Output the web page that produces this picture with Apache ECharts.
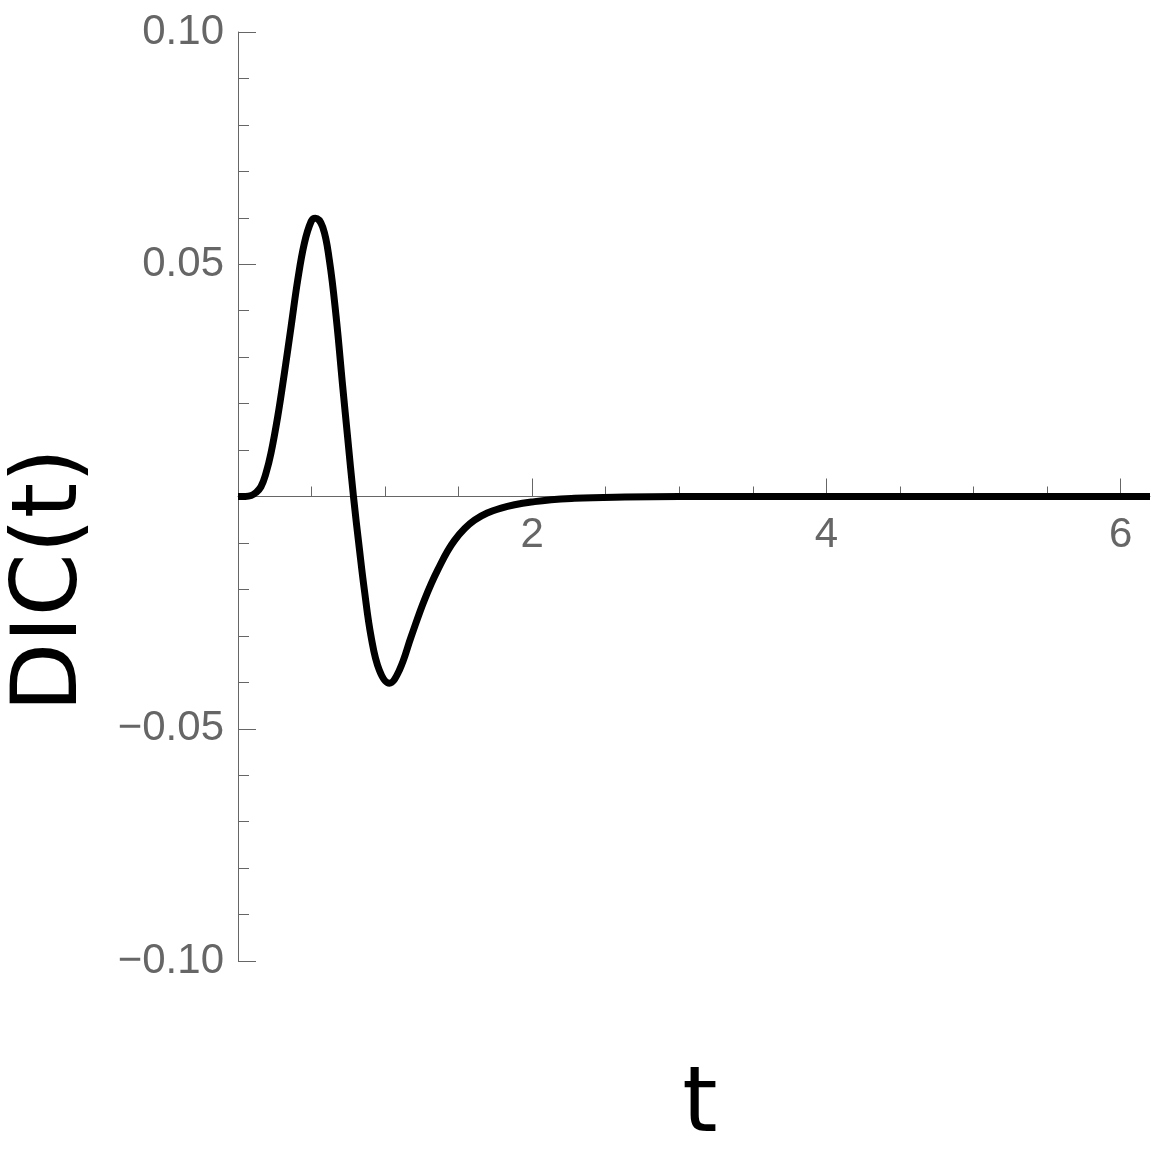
<!DOCTYPE html>
<html>
<head>
<meta charset="utf-8">
<script src="https://cdn.jsdelivr.net/npm/echarts@6/dist/echarts.min.js"></script>
<style>
  html, body { margin: 0; padding: 0; background: #fff; }
  #chart { width: 1161px; height: 1150px; }
</style>
</head>
<body>
<div id="chart"></div>
<script>
// values
var tVals = [0, 0.05, 0.09, 0.12, 0.156, 0.19, 0.224, 0.27, 0.315, 0.361, 0.406, 0.451, 0.497, 0.526, 0.576, 0.621, 0.667, 0.712, 0.746, 0.785,
  0.825, 0.859, 0.905, 0.961, 1.029, 1.097, 1.177, 1.267, 1.358, 1.471, 1.608, 1.789, 2.016, 2.288, 2.63, 3.0, 4, 5, 6.2];
var dicVals = [0, 0, 0.0002, 0.0008, 0.0021, 0.005, 0.0093, 0.0172, 0.0265, 0.0366, 0.0466, 0.0545, 0.0592, 0.0599, 0.058, 0.0509, 0.0387, 0.0236, 0.0125, 0,
  -0.0112, -0.0201, -0.0302, -0.0374, -0.0402, -0.0374, -0.0302, -0.0223, -0.0158, -0.0095, -0.0051, -0.0025, -0.0011, -0.0004, -0.0001, 0, 0, 0, 0];
var xMinorTicks = [0.5, 1, 1.5, 2.5, 3, 3.5, 4.5, 5, 5.5];
var xMajorTicks = [2, 4, 6];

var tickFont = "'Liberation Sans', Arial, sans-serif";
var nameFont = "'DejaVu Sans', sans-serif";
var myChart = echarts.init(document.getElementById('chart'));

var points = tVals.map(function (t, i) { return [t, dicVals[i]]; });

var option = {
  animation: false,
  grid: { left: 238, right: 11, top: 32, bottom: 189, containLabel: false },
  xAxis: [
    {
      type: 'value', min: 0, max: 6.2, interval: 0.5,
      axisLine: { show: true, onZero: true, lineStyle: { color: '#666', width: 1 } },
      axisTick: { show: true, inside: true, length: 10, customValues: xMinorTicks, lineStyle: { color: '#666' } },
      // labels sit under the zero line, not under the grid bottom
      axisLabel: { show: true, customValues: xMajorTicks, margin: -447, fontSize: 42, color: '#666', fontFamily: tickFont },
      splitLine: { show: false }
    },
    {
      // longer ticks at the labelled values
      type: 'value', min: 0, max: 6.2, position: 'bottom',
      axisLine: { show: false, onZero: true, onZeroAxisIndex: 0 },
      axisTick: { show: true, inside: true, length: 18, customValues: xMajorTicks, lineStyle: { color: '#666' } },
      axisLabel: { show: false },
      splitLine: { show: false }
    }
  ],
  yAxis: {
    type: 'value', min: -0.1, max: 0.1, interval: 0.05,
    axisLine: { show: true, onZero: false, lineStyle: { color: '#666', width: 1 } },
    axisTick: { show: true, inside: true, length: 18, lineStyle: { color: '#666' } },
    minorTick: { show: true, splitNumber: 5, length: 11, lineStyle: { color: '#666' } },
    axisLabel: {
      margin: 14, fontSize: 42, color: '#666', fontFamily: tickFont,
      formatter: function (v) {
        if (Math.abs(v) < 1e-9) return '';
        return (v < 0 ? '\u2212' : '') + Math.abs(v).toFixed(2);
      }
    },
    splitLine: { show: false }
  },
  graphic: [
    {
      type: 'text', x: 53, y: 580, rotation: Math.PI / 2,
      style: { text: 'DIC(t)', fontSize: 90, fontFamily: nameFont, fill: '#000', align: 'center', verticalAlign: 'middle' }
    },
    {
      type: 'text', x: 700, y: 1108,
      style: { text: 't', fontSize: 90, fontFamily: nameFont, fill: '#000', align: 'center', verticalAlign: 'middle' }
    }
  ],
  series: [
    {
      type: 'line', xAxisIndex: 0, data: points, smooth: 0.4,
      showSymbol: false, lineStyle: { color: '#000', width: 7 }
    }
  ]
};

myChart.setOption(option);
window.addEventListener('resize', function () {
  myChart.resize();
});
</script>
</body>
</html>
